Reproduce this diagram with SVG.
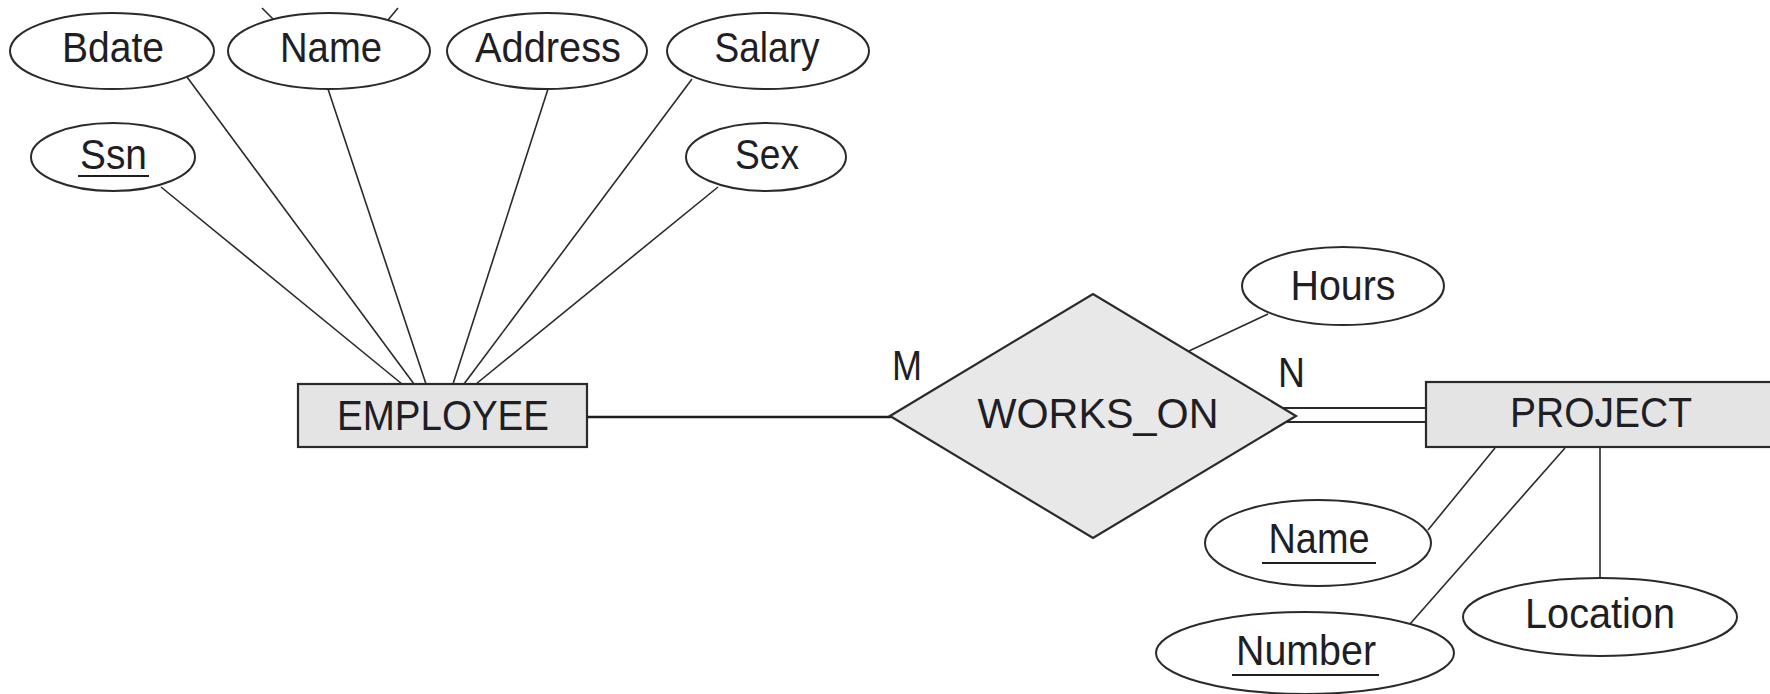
<svg xmlns="http://www.w3.org/2000/svg" width="1770" height="694" viewBox="0 0 1770 694">
  <style>
    .attr { fill: #ffffff; stroke: #2a2a2a; stroke-width: 2; }
    .entity { fill: #e4e4e4; stroke: #2a2a2a; stroke-width: 2.2; }
    .rel { fill: #e8e8e8; stroke: #2a2a2a; stroke-width: 2.2; }
    .link { stroke: #2a2a2a; stroke-width: 1.6; fill: none; }
    .bold { stroke: #1e1e1e; stroke-width: 2.6; fill: none; }
    .key { stroke: #1e1e1e; stroke-width: 2.2; }
    text { font-family: "Liberation Sans", Arial, sans-serif; font-size: 42px; fill: #1e1e24; text-anchor: middle; }
  </style>
  <rect x="0" y="0" width="1770" height="694" fill="#ffffff"/>

  <!-- connectors -->
  <g id="connectors">
    <!-- EMPLOYEE attributes -->
    <line class="link" x1="161" y1="187" x2="402" y2="384"/>
    <line class="link" x1="187" y1="77" x2="414" y2="384"/>
    <line class="link" x1="328" y1="89" x2="426" y2="384"/>
    <line class="link" x1="548" y1="89" x2="453" y2="384"/>
    <line class="link" x1="692" y1="79" x2="464" y2="384"/>
    <line class="link" x1="718" y1="187" x2="476" y2="384"/>
    <!-- links leaving the Name attribute upward -->
    <line class="link" x1="262" y1="8" x2="273" y2="19"/>
    <line class="link" x1="398" y1="8" x2="388" y2="20"/>
    <!-- EMPLOYEE to WORKS_ON -->
    <line class="bold" x1="587" y1="417" x2="891" y2="417"/>
    <!-- WORKS_ON to PROJECT (total participation) -->
    <line class="link" x1="1283" y1="408" x2="1426" y2="408" style="stroke-width:2.2"/>
    <line class="link" x1="1283" y1="422" x2="1426" y2="422" style="stroke-width:2.2"/>
    <!-- Hours -->
    <line class="link" x1="1268" y1="314" x2="1189" y2="351"/>
    <!-- PROJECT attributes -->
    <line class="link" x1="1495" y1="448" x2="1428" y2="530"/>
    <line class="link" x1="1565" y1="448" x2="1410" y2="624"/>
    <line class="link" x1="1600" y1="448" x2="1600" y2="578"/>
  </g>

  <!-- EMPLOYEE attributes -->
  <g id="attr-bdate">
    <ellipse class="attr" cx="112" cy="51" rx="102" ry="38"/>
    <text x="113" y="62" textLength="102" lengthAdjust="spacingAndGlyphs">Bdate</text>
  </g>
  <g id="attr-name">
    <ellipse class="attr" cx="329" cy="51" rx="101" ry="38"/>
    <text x="331" y="62" textLength="102" lengthAdjust="spacingAndGlyphs">Name</text>
  </g>
  <g id="attr-address">
    <ellipse class="attr" cx="547" cy="51" rx="100" ry="38"/>
    <text x="548" y="62" textLength="146" lengthAdjust="spacingAndGlyphs">Address</text>
  </g>
  <g id="attr-salary">
    <ellipse class="attr" cx="768" cy="51" rx="101" ry="38"/>
    <text x="767" y="62" textLength="105" lengthAdjust="spacingAndGlyphs">Salary</text>
  </g>
  <g id="attr-ssn">
    <ellipse class="attr" cx="113" cy="157" rx="82" ry="34"/>
    <text x="113.5" y="169" textLength="67" lengthAdjust="spacingAndGlyphs">Ssn</text>
    <line class="key" x1="78" y1="176" x2="149" y2="176"/>
  </g>
  <g id="attr-sex">
    <ellipse class="attr" cx="766" cy="157" rx="80" ry="34"/>
    <text x="767" y="169" textLength="64" lengthAdjust="spacingAndGlyphs">Sex</text>
  </g>

  <!-- EMPLOYEE entity -->
  <g id="employee">
    <rect class="entity" x="298" y="384" width="289" height="63"/>
    <text x="443" y="430" textLength="212" lengthAdjust="spacingAndGlyphs">EMPLOYEE</text>
  </g>

  <!-- WORKS_ON relationship -->
  <g id="works-on">
    <polygon class="rel" points="890,416 1093,294 1296,416 1093,538"/>
    <text x="1098" y="428" textLength="241" lengthAdjust="spacingAndGlyphs">WORKS_ON</text>
  </g>

  <!-- cardinalities -->
  <g id="card-m">
    <text x="907" y="380" textLength="30" lengthAdjust="spacingAndGlyphs">M</text>
  </g>
  <g id="card-n">
    <text x="1291.5" y="387" textLength="27" lengthAdjust="spacingAndGlyphs">N</text>
  </g>

  <!-- Hours attribute -->
  <g id="attr-hours">
    <ellipse class="attr" cx="1343" cy="286" rx="101" ry="39"/>
    <text x="1343" y="300" textLength="105" lengthAdjust="spacingAndGlyphs">Hours</text>
  </g>

  <!-- PROJECT entity -->
  <g id="project">
    <rect class="entity" x="1426" y="382" width="360" height="65"/>
    <text x="1601" y="427" textLength="182" lengthAdjust="spacingAndGlyphs">PROJECT</text>
  </g>

  <!-- PROJECT attributes -->
  <g id="attr-pname">
    <ellipse class="attr" cx="1318" cy="543" rx="113" ry="43"/>
    <text x="1319" y="553" textLength="101" lengthAdjust="spacingAndGlyphs">Name</text>
    <line class="key" x1="1262" y1="563" x2="1376" y2="563"/>
  </g>
  <g id="attr-number">
    <ellipse class="attr" cx="1305" cy="653" rx="149" ry="41"/>
    <text x="1306" y="665" textLength="140" lengthAdjust="spacingAndGlyphs">Number</text>
    <line class="key" x1="1232" y1="675" x2="1379" y2="675"/>
  </g>
  <g id="attr-location">
    <ellipse class="attr" cx="1600" cy="617" rx="137" ry="39"/>
    <text x="1600" y="628" textLength="150" lengthAdjust="spacingAndGlyphs">Location</text>
  </g>
</svg>
